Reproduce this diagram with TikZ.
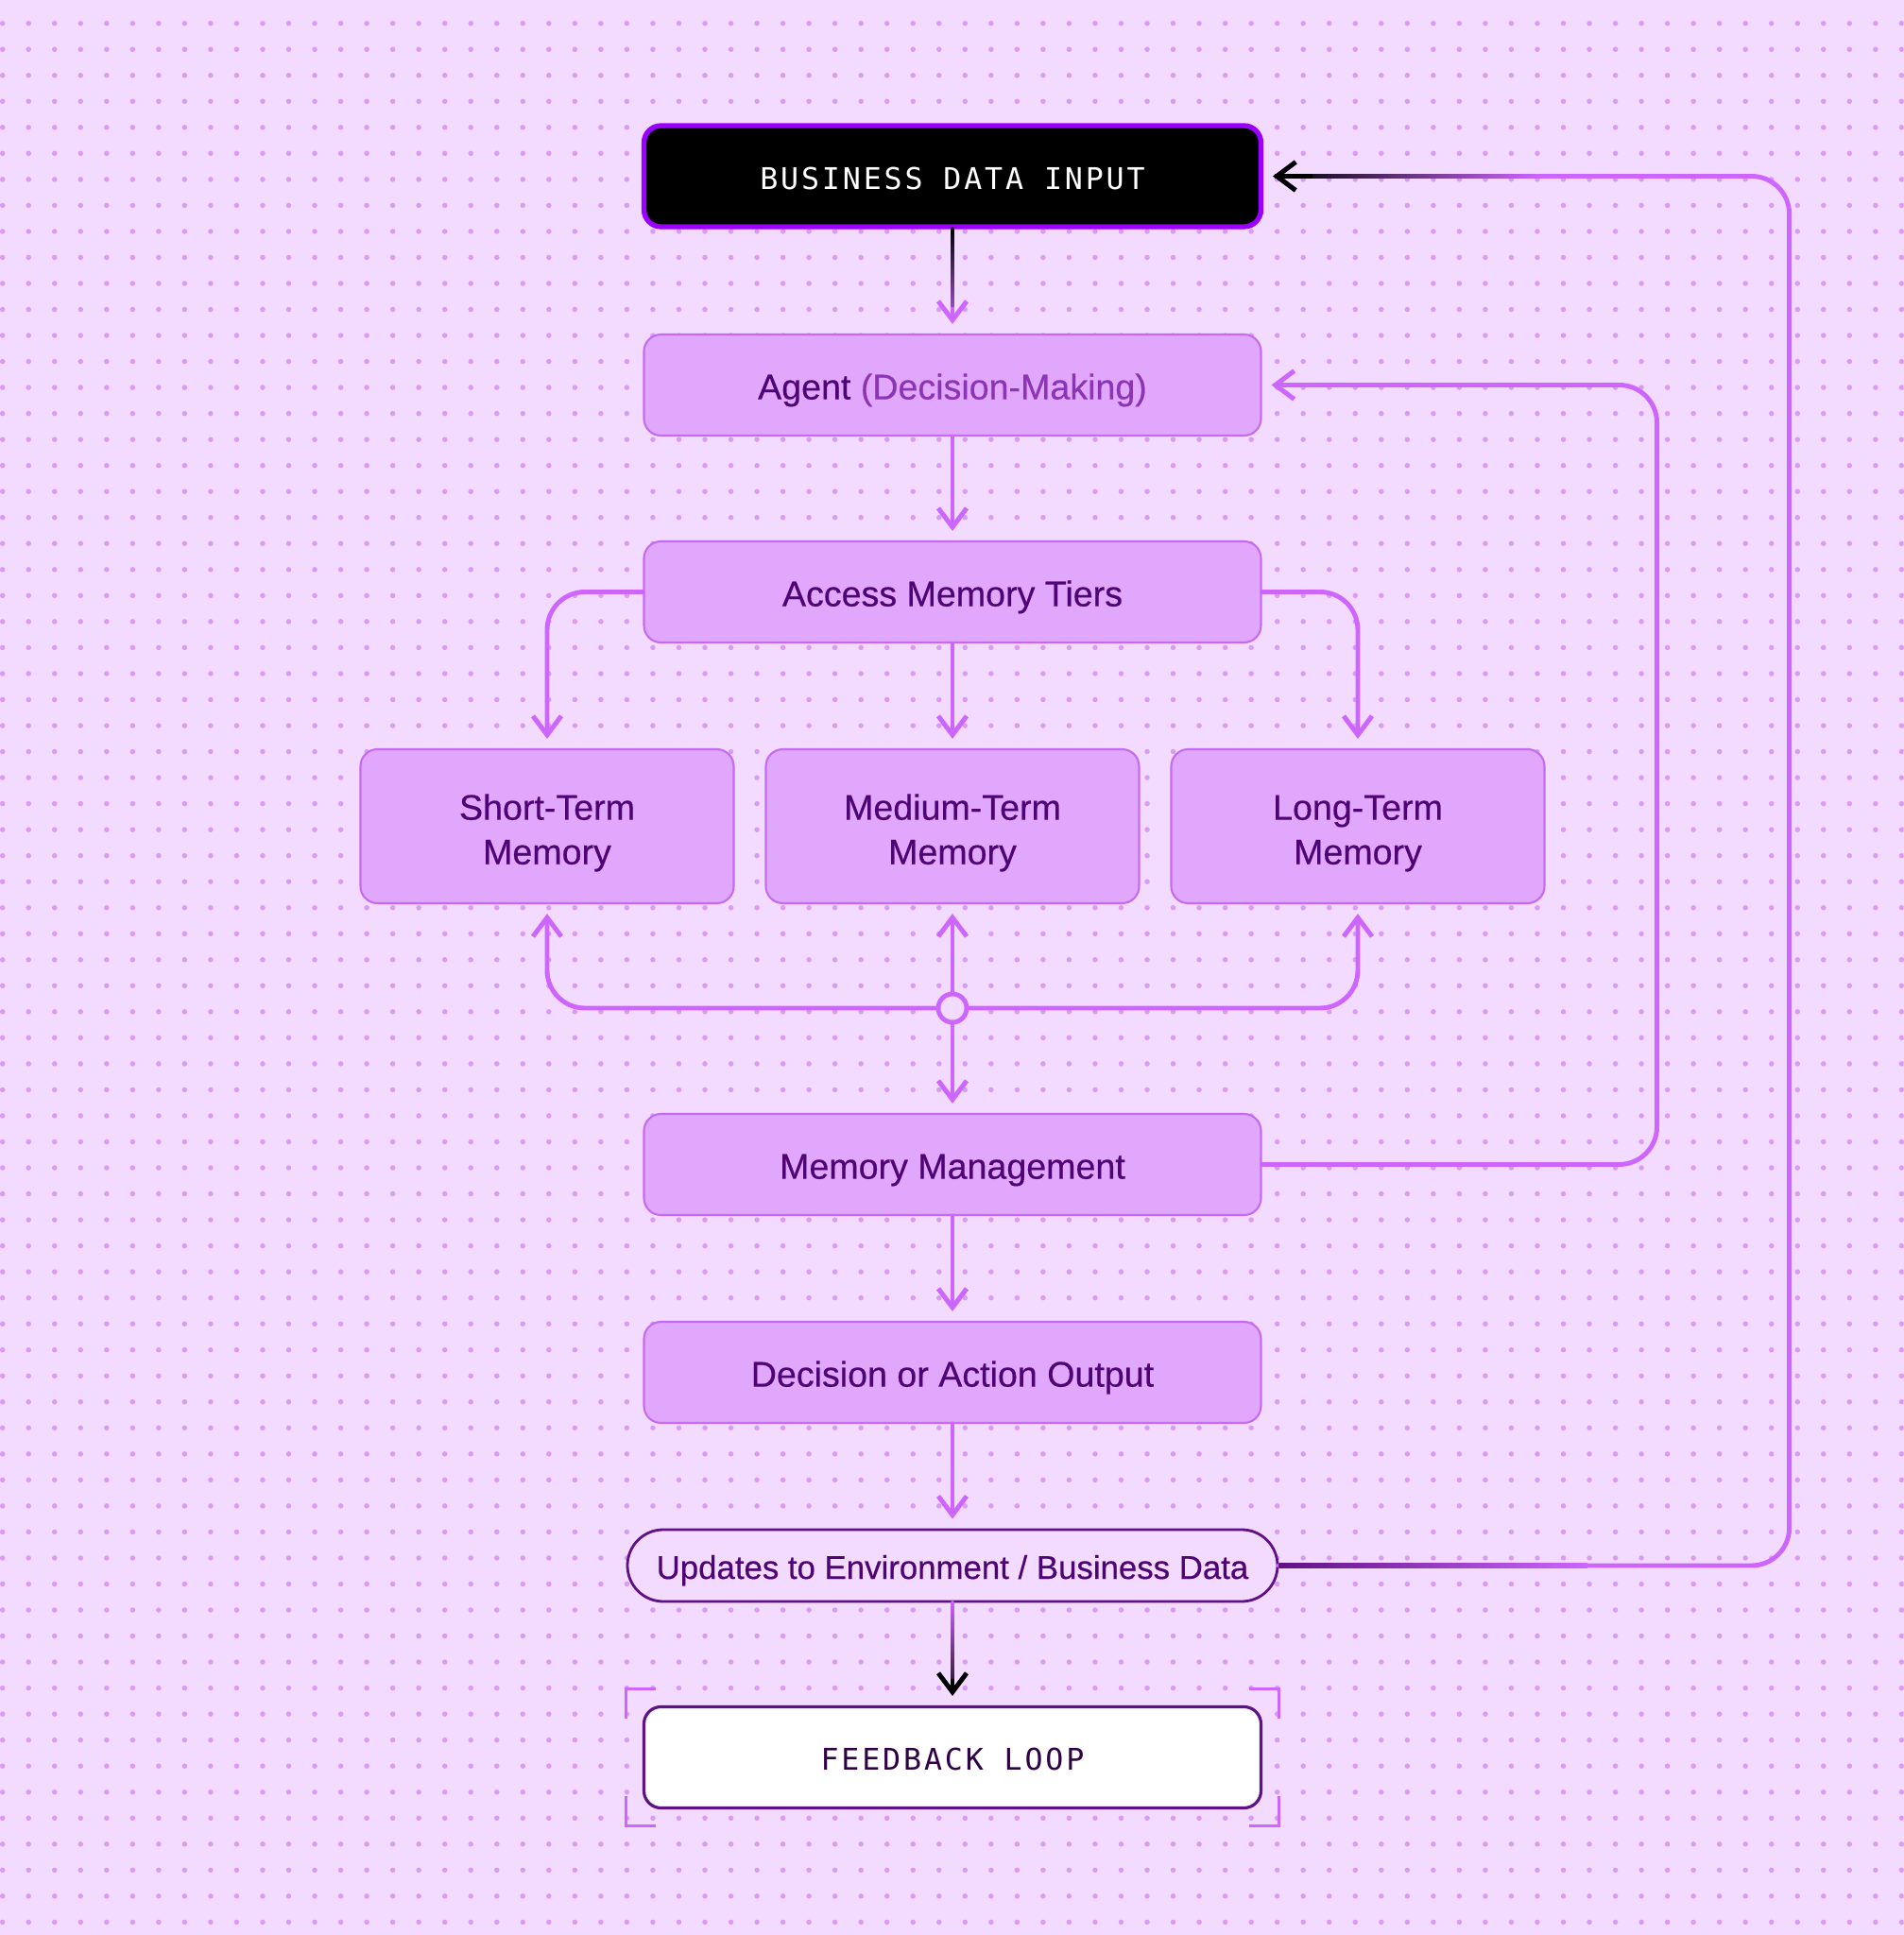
\documentclass[tikz,border=0pt]{standalone}
\usepackage{fontspec}
\setmainfont{Liberation Sans}[FakeBold=0.45]
\newfontfamily\monofont[LetterSpace=9]{DejaVu Sans Mono}
\usepackage{tikz}
\usetikzlibrary{arrows.meta,fadings}
\usepackage{xcolor}

\definecolor{paper}{HTML}{F3DAFF}
\definecolor{dotpink}{HTML}{DA9CF3}
\definecolor{boxfill}{HTML}{E1A7FC}
\definecolor{boxline}{HTML}{C56AF2}
\definecolor{wire}{HTML}{CC66FF}
\definecolor{ink}{HTML}{4E0475}
\definecolor{inksoft}{HTML}{8B35B5}
\definecolor{violet}{HTML}{9B00FF}
\definecolor{plum}{HTML}{5F1185}

\begin{document}
\begin{tikzpicture}[>={Straight Barb[length=2mm,width=3mm]},line cap=round,
  stage/.style={draw=boxline,line width=0.6pt,fill=boxfill,rounded corners=0.18cm,
    minimum width=6.53cm,minimum height=1.07cm,text=ink,
    font=\fontsize{10.7}{13.4}\selectfont,text height=8.6pt,text depth=0pt},
  tier/.style={stage,minimum width=3.95cm,minimum height=1.63cm,align=center,text height=22.9pt},
  mono/.style={font=\monofont\fontsize{9}{11}\selectfont,text height=7.7pt,text depth=0pt},
  flow/.style={wire,line width=1.4pt,->,shorten >=0.1cm,rounded corners=0.4cm},
  bracket/.style={wire,line width=0.85pt,line cap=butt}]
% background and dot grid
\fill[paper] (0,0) rectangle (20.15,20.48);
\useasboundingbox (0,0) rectangle (20.15,20.48);
\foreach \row in {0,...,73}
  \draw[dotpink,line width=0.055cm,dash pattern=on 0pt off 0.2753cm]
    (0.027,20.233-\row*0.2753) -- (20.15,20.233-\row*0.2753);

% nodes
\node[stage,mono,draw=violet,line width=1.5pt,fill=black,text=white] (input) at (10.08,18.615) {BUSINESS DATA INPUT};
\node[stage] (agent) at (10.08,16.405) {Agent {\color{inksoft}(Decision-Making)}};
\node[stage] (access) at (10.08,14.215) {Access Memory Tiers};
\node[tier] (short) at (5.79,11.735) {Short-Term\\Memory};
\node[tier] (medium) at (10.08,11.735) {Medium-Term\\Memory};
\node[tier] (long) at (14.37,11.735) {Long-Term\\Memory};
\node[circle,draw=wire,line width=1.4pt,fill=paper,minimum size=0.3cm,inner sep=0pt] (hub) at (10.08,9.81) {};
\node[stage] (mgmt) at (10.08,8.155) {Memory Management};
\node[stage] (decide) at (10.08,5.955) {Decision or Action Output};
\node[draw=plum,line width=0.8pt,fill=paper,rounded corners=0.38cm,minimum width=6.88cm,
  minimum height=0.76cm,text=ink,font=\fontsize{9.9}{12}\selectfont,
  text height=8pt,text depth=0pt] (update) at (10.08,3.91)
  {Updates to Environment / Business Data};
\node[stage,mono,draw=plum,line width=0.9pt,fill=white,text=ink!60!black] (loop) at (10.08,1.88) {FEEDBACK LOOP};

% brackets round the feedback loop
\draw[bracket] ([shift={(0.14,0.17)}]loop.north west) -| ([shift={(-0.17,-0.14)}]loop.north west);
\draw[bracket] ([shift={(-0.14,0.17)}]loop.north east) -| ([shift={(0.17,-0.14)}]loop.north east);
\draw[bracket] ([shift={(0.14,-0.17)}]loop.south west) -| ([shift={(-0.17,0.14)}]loop.south west);
\draw[bracket] ([shift={(-0.14,-0.17)}]loop.south east) -| ([shift={(0.17,0.14)}]loop.south east);

% connectors
\draw[flow] (input) -- (agent);
\draw[black,line width=1.4pt,shorten >=0.3cm,path fading=south] (input) -- (agent);
\draw[flow] (agent) -- (access);
\draw[flow] (access) -- (medium);
\draw[flow] (access.west) -| (short.north);
\draw[flow] (access.east) -| (long.north);
\draw[flow] (hub) -- (medium);
\draw[flow] (hub.west) -| (short.south);
\draw[flow] (hub.east) -| (long.south);
\draw[flow] (hub) -- (mgmt);
\draw[flow] (mgmt) -- (decide);
\draw[flow] (decide) -- (update);
\draw[flow,black] (update) -- (loop);
\draw[wire,line width=1.4pt,shorten >=0.3cm,path fading=south] (update) -- (loop);
\draw[flow] (mgmt.east) -| ([xshift=4.18cm]agent.east) -- (agent.east);
\draw[flow] (update.east) -| ([xshift=5.565cm]input.east) -- (input.east);
% colour runs on the outer loop
\coordinate (updfade) at (16.8,3.91);
\coordinate (infade) at (16.3,18.615);
\shade[left color=plum,right color=wire] ([yshift=-0.7pt]update.east) rectangle ([yshift=0.7pt]updfade);
\shade[left color=black,right color=wire] ([xshift=0.12cm,yshift=-0.7pt]input.east) rectangle ([yshift=0.7pt]infade);
\draw[flow,black] ([xshift=0.5cm]input.east) -- (input.east);
\end{tikzpicture}
\end{document}
